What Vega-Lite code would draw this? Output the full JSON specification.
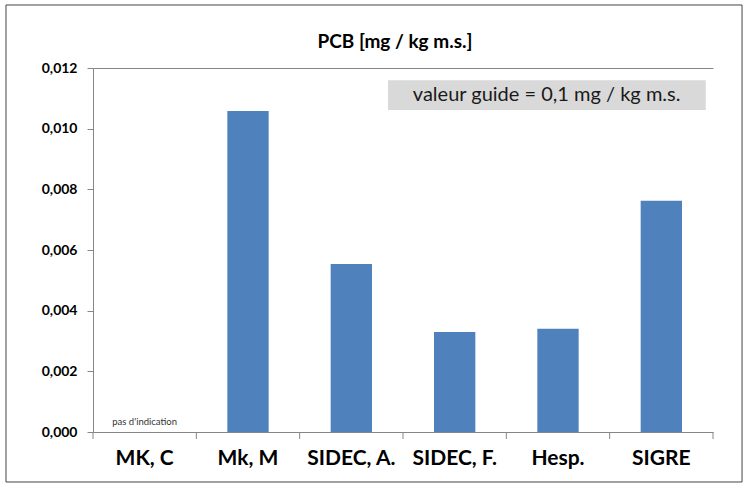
{
  "$schema": "https://vega.github.io/schema/vega-lite/v6.json",
  "width": 620,
  "height": 364,
  "autosize": "none",
  "padding": {"left": 93, "top": 68, "right": 43, "bottom": 59},
  "background": "white",
  "config": {"view": {"stroke": null}, "font": "Lato"},
  "title": {"text": "PCB [mg / kg m.s.]", "font": "Lato", "fontSize": 19, "fontWeight": "bold", "color": "#000000", "anchor": "middle", "dx": -8, "offset": -48},
  "data": {"values": [
    {"site": "MK, C", "value": 0, "note": "pas d'indication"},
    {"site": "Mk, M", "value": 0.01058, "note": ""},
    {"site": "SIDEC, A.", "value": 0.00554, "note": ""},
    {"site": "SIDEC, F.", "value": 0.0033, "note": ""},
    {"site": "Hesp.", "value": 0.0034, "note": ""},
    {"site": "SIGRE", "value": 0.00762, "note": ""}
  ]},
  "resolve": {"scale": {"x": "independent"}},
  "layer": [
    {
      "mark": {"type": "bar", "color": "#4F81BD"},
      "encoding": {
        "x": {"field": "site", "type": "nominal", "sort": null,
          "scale": {"paddingInner": 0.6, "paddingOuter": 0.3},
          "axis": {"title": null, "labelAngle": 0, "labelFont": "Lato", "labelFontSize": 21, "labelFontWeight": "bold", "labelColor": "#000000", "labelPadding": 15, "ticks": false, "domainColor": "#868686", "domainWidth": 1}},
        "y": {"field": "value", "type": "quantitative",
          "scale": {"domain": [0, 0.012], "nice": false},
          "axis": {"title": null, "values": [0, 0.002, 0.004, 0.006, 0.008, 0.01, 0.012],
            "labelExpr": "replace(format(datum.value, '.3f'), '.', ',')",
            "labelFont": "Lato", "labelFontSize": 14, "labelFontWeight": "bold", "labelColor": "#000000",
            "tickSize": 6, "tickColor": "#868686", "labelPadding": 10, "domainColor": "#868686",
            "grid": true, "gridColor": "#868686",
            "gridOpacity": {"condition": {"test": "datum.value >= 0.0119", "value": 1}, "value": 0}}}
      }
    },
    {
      "mark": {"type": "text", "fontSize": 9.5, "font": "Lato", "color": "#333333", "dy": -10},
      "encoding": {
        "x": {"field": "site", "type": "nominal", "sort": null, "scale": {"paddingInner": 0.6, "paddingOuter": 0.3}, "axis": null},
        "y": {"field": "value", "type": "quantitative", "scale": {"domain": [0, 0.012], "nice": false}},
        "text": {"field": "note"}
      }
    },
    {
      "data": {"values": [{"x": 2.855, "x2": 5.93, "y": 0.0116, "y2": 0.010615}]},
      "mark": {"type": "rect", "color": "#D9D9D9"},
      "encoding": {
        "x": {"field": "x", "type": "quantitative", "scale": {"domain": [0, 6], "nice": false, "zero": false}, "axis": null},
        "x2": {"field": "x2"},
        "y": {"field": "y", "type": "quantitative"},
        "y2": {"field": "y2"}
      }
    },
    {
      "data": {"values": [{"x": 4.39, "y": 0.01111, "label": "valeur guide = 0,1 mg / kg m.s."}]},
      "mark": {"type": "text", "fontSize": 20, "font": "Lato", "color": "#1a1a1a", "align": "center", "baseline": "middle"},
      "encoding": {
        "x": {"field": "x", "type": "quantitative", "scale": {"domain": [0, 6], "nice": false, "zero": false}, "axis": null},
        "y": {"field": "y", "type": "quantitative"},
        "text": {"field": "label"}
      }
    },
    {
      "data": {"values": [{"x": 0}, {"x": 1}, {"x": 2}, {"x": 3}, {"x": 4}, {"x": 5}, {"x": 6}]},
      "mark": {"type": "rule", "color": "#868686", "strokeWidth": 1},
      "encoding": {
        "x": {"field": "x", "type": "quantitative", "scale": {"domain": [0, 6], "nice": false, "zero": false}, "axis": null},
        "y": {"datum": 0},
        "y2": {"datum": -0.00023}
      }
    },
    {
      "data": {"values": [{"x": -0.842, "x2": 6.281, "y": 0.014077, "y2": -0.001648}]},
      "mark": {"type": "rect", "fill": null, "stroke": "#444444", "strokeWidth": 1},
      "encoding": {
        "x": {"field": "x", "type": "quantitative", "scale": {"domain": [0, 6], "nice": false, "zero": false}, "axis": null},
        "x2": {"field": "x2"},
        "y": {"field": "y", "type": "quantitative"},
        "y2": {"field": "y2"}
      }
    }
  ]
}
